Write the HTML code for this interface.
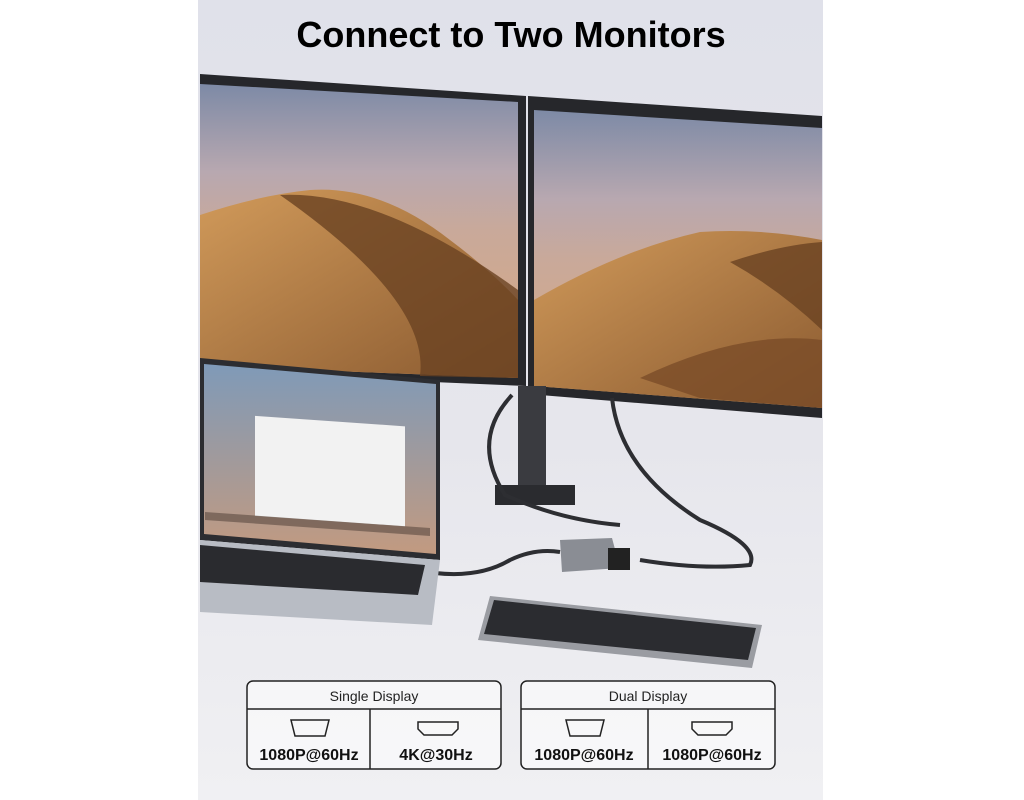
<!DOCTYPE html>
<html><head><meta charset="utf-8"><style>
html,body{margin:0;padding:0;background:#fff;width:1024px;height:800px;overflow:hidden;font-family:"Liberation Sans",sans-serif}
</style></head><body>
<svg width="1024" height="800" viewBox="0 0 1024 800" xmlns="http://www.w3.org/2000/svg" style="position:absolute;left:0;top:0">
<defs>
<linearGradient id="bg" x1="0" y1="0" x2="0" y2="1"><stop offset="0" stop-color="#e0e1ea"/><stop offset="0.55" stop-color="#e6e6ec"/><stop offset="1" stop-color="#f0f0f3"/></linearGradient>
<linearGradient id="sky" x1="0" y1="0" x2="0" y2="1"><stop offset="0" stop-color="#7d8aa6"/><stop offset="0.3" stop-color="#b8a8b0"/><stop offset="0.5" stop-color="#c9a99a"/><stop offset="1" stop-color="#d8a880"/></linearGradient>
<linearGradient id="dune" x1="0" y1="0" x2="1" y2="1"><stop offset="0" stop-color="#d19a5a"/><stop offset="1" stop-color="#8a5a30"/></linearGradient>
<linearGradient id="lap" x1="0" y1="0" x2="0" y2="1"><stop offset="0" stop-color="#7f9ab8"/><stop offset="1" stop-color="#c29a80"/></linearGradient>
</defs>
<rect x="198" y="0" width="625" height="800" fill="url(#bg)"/>
<polygon points="200,74 526,96 526,386 200,372" fill="#26272b"/>
<polygon points="200,84 518,102 518,378 200,366" fill="url(#sky)"/>
<path d="M200,215 Q260,195 310,190 Q380,185 450,240 Q490,270 518,300 L518,378 L200,366 Z" fill="url(#dune)"/>
<path d="M280,195 Q380,190 518,290 L518,378 L420,376 Q430,300 280,195 Z" fill="#6a4222" opacity="0.8"/>
<polygon points="528,96 822,116 822,418 528,394" fill="#26272b"/>
<polygon points="534,110 822,128 822,408 534,386" fill="url(#sky)"/>
<path d="M534,300 Q620,250 700,232 Q760,228 822,240 L822,408 L534,386 Z" fill="url(#dune)"/>
<path d="M730,262 Q780,245 822,242 L822,330 Q780,290 730,262 Z" fill="#6a4222" opacity="0.8"/>
<path d="M640,378 Q740,330 822,340 L822,408 L700,398 Z" fill="#7a4c28" opacity="0.8"/>
<rect x="518" y="386" width="28" height="104" fill="#3a3b40"/>
<polygon points="495,485 575,485 575,505 495,505" fill="#2a2b2f"/>
<path d="M512,395 Q470,440 505,495 Q560,520 620,525" stroke="#2d2e32" stroke-width="4" fill="none"/>
<path d="M612,398 Q620,470 700,520 Q760,545 750,565 Q700,570 640,560" stroke="#2d2e32" stroke-width="4" fill="none"/>
<path d="M435,573 Q480,578 510,560 Q535,548 560,552" stroke="#2d2e32" stroke-width="4" fill="none"/>
<polygon points="560,540 612,538 620,568 562,572" fill="#8a8d94"/>
<rect x="608" y="548" width="22" height="22" fill="#222" />
<polygon points="200,358 440,380 440,560 200,540" fill="#2c2d31"/>
<polygon points="204,364 436,384 436,554 204,534" fill="url(#lap)"/>
<rect x="255" y="398" width="150" height="100" fill="#f2f2f2" transform="skewY(4)"/>
<polygon points="205,512 430,528 430,536 205,520" fill="#5a4a40" opacity="0.6"/>
<polygon points="200,540 440,560 432,625 200,612" fill="#b8bcc4"/>
<polygon points="200,545 425,565 418,595 200,582" fill="#2a2b2f"/>
<polygon points="490,596 762,625 752,668 478,640" fill="#9a9ca2"/>
<polygon points="494,600 756,628 748,660 484,634" fill="#2b2c30"/>
<text x="511" y="47" text-anchor="middle" font-family="Liberation Sans" font-weight="bold" font-size="36" fill="#000">Connect to Two Monitors</text>
<g fill="#fff" stroke="#222" stroke-width="1.5">
<rect x="247" y="681" width="254" height="88" rx="6" fill-opacity="0.5"/>
<rect x="521" y="681" width="254" height="88" rx="6" fill-opacity="0.5"/>
<line x1="247" y1="709" x2="501" y2="709"/><line x1="370" y1="709" x2="370" y2="769"/>
<line x1="521" y1="709" x2="775" y2="709"/><line x1="648" y1="709" x2="648" y2="769"/>
</g>
<g font-family="Liberation Sans" font-size="14" fill="#222" text-anchor="middle">
<text x="374" y="701">Single Display</text><text x="648" y="701">Dual Display</text>
</g>
<g font-family="Liberation Sans" font-size="16" font-weight="bold" fill="#111" text-anchor="middle">
<text x="309" y="760">1080P@60Hz</text><text x="436" y="760">4K@30Hz</text>
<text x="584" y="760">1080P@60Hz</text><text x="712" y="760">1080P@60Hz</text>
</g>
<g fill="none" stroke="#222" stroke-width="1.5">
<path d="M291,720 h38 l-4,16 h-30 z"/><path d="M418,722 h40 v7 l-6,6 h-28 l-6,-6 z"/>
<path d="M566,720 h38 l-4,16 h-30 z"/><path d="M692,722 h40 v7 l-6,6 h-28 l-6,-6 z"/>
</g>
</svg>
</body></html>
